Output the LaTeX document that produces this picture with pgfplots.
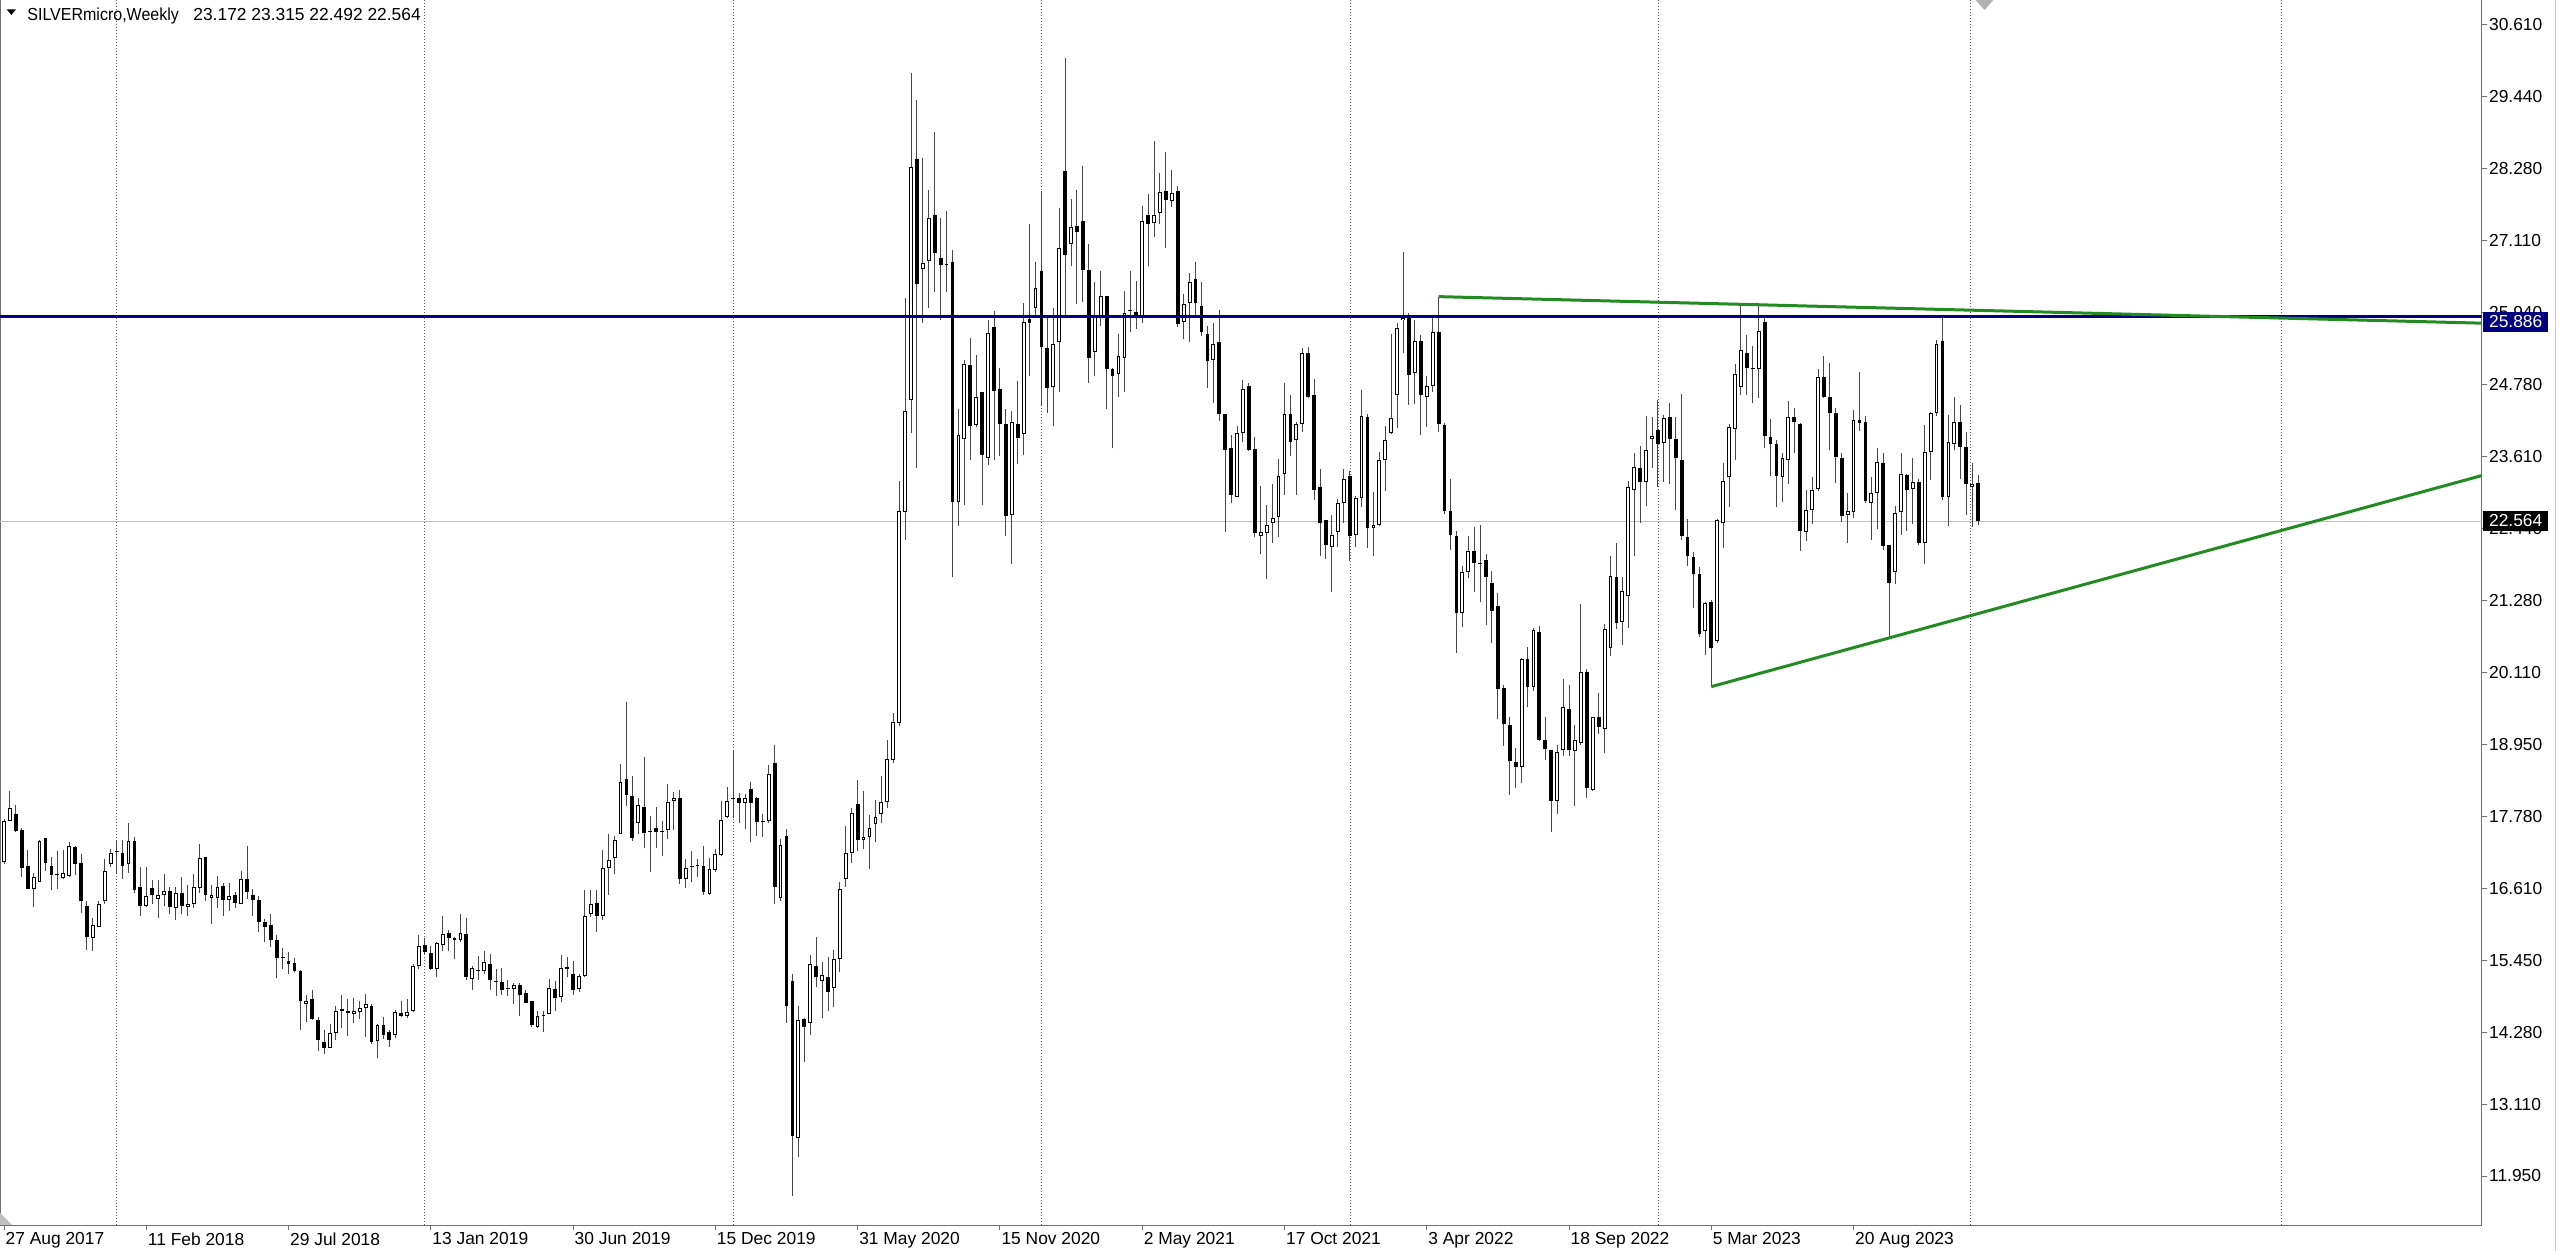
\documentclass[border=0pt]{standalone}
\usepackage{fontspec}
\setmainfont{Liberation Sans}
\usepackage{graphicx}
\usepackage{pgfplots}
\usepackage{pgfplotstable}
\pgfplotsset{compat=1.18}

\definecolor{mtnavy}{RGB}{0,0,128}
\definecolor{mtgreen}{RGB}{34,139,34}
\definecolor{bidline}{RGB}{192,192,192}
\definecolor{frame}{RGB}{110,110,110}
\newcommand\tickfont{\fontsize{8.7bp}{10bp}\selectfont}

% weekly SILVERmicro candles, week index from 27 Aug 2017
\pgfplotstableread{
x o h l c
0 17.04 17.74 17.01 17.71
1 17.71 18.19 17.70 17.92
2 17.81 17.96 17.53 17.54
3 17.56 17.59 16.79 16.94
4 16.97 17.23 16.60 16.60
5 16.60 16.86 16.31 16.79
6 16.72 17.40 16.72 17.38
7 17.43 17.43 16.89 17.02
8 16.98 17.12 16.59 16.83
9 16.82 17.22 16.60 16.82
10 16.78 17.24 16.77 16.86
11 16.81 17.36 16.79 17.29
12 17.28 17.29 16.82 17.01
13 17.02 17.16 16.21 16.40
14 16.32 16.40 15.62 15.82
15 15.80 16.13 15.59 16.02
16 15.99 16.40 15.98 16.35
17 16.40 17.09 16.36 16.89
18 17.01 17.25 16.96 17.18
19 17.22 17.39 16.85 17.20
20 17.18 17.40 16.77 16.98
21 17.01 17.67 16.86 17.38
22 17.38 17.45 16.53 16.59
23 16.63 16.96 16.16 16.32
24 16.32 16.96 16.31 16.49
25 16.62 16.75 16.36 16.51
26 16.44 16.74 16.13 16.50
27 16.50 16.85 16.33 16.57
28 16.57 16.64 16.19 16.31
29 16.30 16.64 16.10 16.54
30 16.53 16.79 16.19 16.33
31 16.31 16.66 16.16 16.36
32 16.36 16.85 16.30 16.64
33 16.62 17.33 16.53 17.11
34 17.12 17.12 16.40 16.50
35 16.46 16.66 16.04 16.51
36 16.46 16.81 16.30 16.63
37 16.65 16.69 16.17 16.43
38 16.42 16.70 16.24 16.48
39 16.50 16.55 16.30 16.37
40 16.36 16.89 16.35 16.76
41 16.76 17.30 16.44 16.55
42 16.51 16.60 16.17 16.43
43 16.43 16.48 15.90 16.07
44 16.07 16.12 15.75 15.99
45 16.01 16.19 15.66 15.78
46 15.77 15.85 15.16 15.49
47 15.48 15.64 15.31 15.48
48 15.43 15.58 15.23 15.38
49 15.40 15.49 15.25 15.28
50 15.28 15.29 14.32 14.78
51 14.73 14.88 14.44 14.79
52 14.82 14.97 14.47 14.50
53 14.48 14.52 13.98 14.16
54 14.12 14.32 13.92 14.03
55 14.03 14.41 14.03 14.27
56 14.27 14.70 14.16 14.63
57 14.63 14.89 14.35 14.65
58 14.63 14.82 14.22 14.59
59 14.58 14.84 14.43 14.62
60 14.61 14.79 14.50 14.68
61 14.67 14.90 14.20 14.73
62 14.71 14.73 14.09 14.12
63 14.13 14.41 13.87 14.39
64 14.40 14.53 14.17 14.24
65 14.28 14.31 14.04 14.16
66 14.24 14.64 14.18 14.60
67 14.59 14.79 14.52 14.54
68 14.55 14.82 14.51 14.60
69 14.63 15.39 14.60 15.36
70 15.35 15.86 15.31 15.68
71 15.70 15.80 15.55 15.58
72 15.57 15.67 15.29 15.31
73 15.31 15.74 15.17 15.72
74 15.70 16.16 15.59 15.87
75 15.89 15.94 15.60 15.81
76 15.80 15.82 15.47 15.77
77 15.77 16.20 15.74 15.89
78 15.87 16.13 15.12 15.17
79 15.15 15.36 14.96 15.32
80 15.28 15.51 15.12 15.29
81 15.28 15.60 15.23 15.42
82 15.39 15.55 14.96 15.12
83 15.10 15.31 14.87 15.11
84 15.10 15.32 14.89 14.96
85 14.98 15.12 14.87 14.99
86 14.98 15.07 14.74 15.05
87 15.05 15.07 14.55 14.89
88 14.91 14.97 14.76 14.76
89 14.78 14.79 14.37 14.39
90 14.36 14.62 14.35 14.54
91 14.55 14.63 14.28 14.56
92 14.58 15.14 14.57 15.00
93 14.98 15.11 14.63 14.84
94 14.85 15.53 14.77 15.32
95 15.33 15.50 15.17 15.30
96 15.23 15.44 14.89 14.97
97 14.98 15.23 14.93 15.19
98 15.19 16.58 15.17 16.17
99 16.19 16.58 16.15 16.36
100 16.38 16.59 15.90 16.17
101 16.17 17.23 16.10 16.94
102 16.94 17.49 16.51 17.07
103 17.11 17.46 16.84 17.40
104 17.50 18.63 17.49 18.34
105 18.39 19.63 17.94 18.13
106 18.11 18.44 17.38 17.43
107 17.67 18.07 17.50 17.96
108 17.93 18.74 17.26 17.51
109 17.52 17.78 16.87 17.53
110 17.59 17.93 17.26 17.53
111 17.52 17.71 17.13 17.53
112 17.56 18.31 17.41 18.01
113 18.03 18.17 17.55 18.08
114 18.08 18.20 16.68 16.77
115 16.76 17.09 16.62 16.94
116 16.96 17.21 16.72 16.97
117 16.97 17.08 16.79 16.98
118 16.97 17.30 16.51 16.55
119 16.52 17.11 16.50 16.92
120 16.91 17.25 16.88 17.17
121 17.15 18.03 17.13 17.72
122 17.76 18.26 17.75 18.02
123 18.06 18.84 17.75 18.08
124 18.07 18.15 17.67 18.00
125 18.00 18.14 17.58 18.07
126 18.22 18.34 17.37 18.00
127 18.08 18.09 17.46 17.68
128 17.69 17.82 17.44 17.70
129 17.71 18.61 17.67 18.47
130 18.65 18.93 16.36 16.64
131 16.45 17.41 16.41 17.32
132 17.46 17.57 14.43 14.71
133 15.11 15.23 11.63 12.60
134 12.57 14.71 12.25 14.47
135 14.50 14.51 13.79 14.37
136 14.43 15.53 14.23 15.38
137 15.36 15.82 15.01 15.17
138 15.11 15.42 14.51 15.21
139 15.18 15.50 14.62 14.93
140 15.00 15.61 14.69 15.47
141 15.47 16.71 15.25 16.60
142 16.77 17.62 16.63 17.19
143 17.19 17.91 17.02 17.84
144 17.98 18.36 17.21 17.39
145 17.39 18.19 17.25 17.45
146 17.44 17.80 16.93 17.59
147 17.65 18.04 17.37 17.77
148 17.82 18.43 17.67 18.01
149 18.01 19.01 17.91 18.70
150 18.69 19.46 18.65 19.31
151 19.29 23.22 19.24 22.73
152 22.71 26.17 22.26 24.35
153 24.53 29.82 23.99 28.30
154 28.43 29.38 23.42 26.41
155 26.64 28.45 25.78 26.74
156 26.78 27.92 26.02 27.47
157 27.52 28.87 26.27 26.90
158 26.83 27.47 25.82 26.71
159 26.72 27.59 26.27 26.73
160 26.76 26.95 21.65 22.88
161 22.88 24.38 22.48 23.96
162 23.89 25.17 22.83 25.11
163 25.09 25.53 23.55 24.11
164 24.12 25.26 24.09 24.58
165 24.65 24.65 22.83 23.63
166 23.58 25.82 23.47 25.61
167 25.70 25.97 23.56 24.67
168 24.70 25.05 23.62 24.13
169 24.14 24.38 22.32 22.64
170 22.66 24.34 21.87 24.17
171 24.14 24.84 23.48 23.91
172 23.98 26.10 23.64 25.79
173 25.83 27.37 24.92 25.77
174 26.02 26.76 25.87 26.34
175 26.61 27.91 24.43 25.39
176 25.36 25.87 24.31 24.72
177 24.73 26.02 24.11 25.44
178 25.46 27.63 24.66 26.99
179 28.24 30.06 25.87 26.88
180 27.06 27.79 26.69 27.33
181 27.35 27.93 26.08 27.25
182 27.42 28.31 26.11 26.63
183 26.63 27.05 24.80 25.20
184 25.31 26.43 24.91 25.88
185 25.89 26.61 25.73 26.21
186 26.21 26.21 24.38 25.03
187 25.03 25.05 23.74 24.92
188 24.95 25.60 24.58 25.23
189 25.21 26.29 24.66 25.93
190 25.97 26.62 25.62 25.98
191 25.95 26.45 25.68 25.88
192 25.88 27.67 25.77 27.42
193 27.53 27.86 26.69 27.37
194 27.40 28.73 27.17 27.53
195 27.56 28.21 27.37 27.90
196 27.91 28.54 26.99 27.76
197 27.75 28.26 27.65 27.88
198 27.91 28.00 25.70 25.76
199 25.79 26.25 25.51 26.08
200 26.09 26.58 25.47 26.43
201 26.48 26.76 25.89 26.09
202 26.05 26.44 25.57 25.62
203 25.60 25.73 24.72 25.16
204 25.18 25.77 24.47 25.44
205 25.47 25.98 24.18 24.29
206 24.30 24.30 22.39 23.71
207 23.75 23.95 22.85 22.99
208 22.96 24.10 22.96 23.99
209 23.99 24.85 23.84 24.70
210 24.75 24.80 23.70 23.71
211 23.73 23.92 22.30 22.37
212 22.32 23.13 22.03 22.39
213 22.37 22.83 21.62 22.50
214 22.53 23.17 22.20 22.61
215 22.63 23.57 22.30 23.29
216 23.32 24.80 22.99 24.29
217 24.30 24.60 23.62 23.85
218 23.88 24.17 22.99 24.13
219 24.14 25.37 24.00 25.28
220 25.29 25.38 24.55 24.57
221 24.61 24.87 22.91 23.06
222 23.12 23.41 22.00 22.53
223 22.58 22.58 21.95 22.17
224 22.15 22.66 21.41 22.34
225 22.39 22.92 22.15 22.85
226 22.85 23.41 22.53 23.24
227 23.29 23.38 21.91 22.32
228 22.33 22.97 22.15 22.93
229 22.93 24.68 22.79 24.27
230 24.25 24.30 22.13 22.45
231 22.45 23.03 21.99 22.50
232 22.50 23.69 22.48 23.56
233 23.56 24.10 23.05 23.87
234 23.99 25.60 23.98 24.23
235 24.60 25.77 24.07 25.69
236 25.82 26.93 25.28 25.86
237 25.90 25.93 24.44 24.93
238 24.96 25.82 24.46 25.48
239 25.48 25.58 23.96 24.60
240 24.57 24.92 24.09 24.75
241 24.75 25.86 24.65 25.62
242 25.63 26.20 24.01 24.14
243 24.12 24.16 22.68 22.73
244 22.73 23.25 22.09 22.33
245 22.32 22.41 20.43 21.08
246 21.07 21.84 20.84 21.73
247 21.73 22.32 21.64 22.07
248 22.07 22.46 21.41 21.89
249 21.88 22.50 21.25 21.87
250 21.94 22.03 20.88 21.66
251 21.56 21.75 20.59 21.10
252 21.18 21.39 19.36 19.84
253 19.85 19.90 18.91 19.28
254 19.26 19.38 18.13 18.67
255 18.66 18.88 18.23 18.58
256 18.58 20.35 18.32 20.32
257 20.32 20.52 19.55 19.87
258 19.87 20.83 19.81 20.79
259 20.77 20.87 19.00 19.02
260 19.01 19.39 18.69 18.87
261 18.85 18.85 17.53 18.03
262 18.03 18.94 17.82 18.82
263 18.85 20.00 18.75 19.55
264 19.52 19.90 18.75 18.85
265 18.83 19.26 17.95 19.02
266 18.96 21.22 18.94 20.11
267 20.11 20.16 18.07 18.24
268 18.21 19.39 18.19 19.38
269 19.38 19.78 19.12 19.23
270 19.20 20.90 18.80 20.82
271 20.50 21.99 20.37 21.68
272 21.65 22.21 20.82 20.91
273 20.93 21.65 20.56 21.43
274 21.35 23.22 20.83 23.12
275 23.06 23.67 21.99 23.44
276 23.43 23.78 22.53 23.19
277 23.19 24.27 22.81 23.71
278 23.89 24.25 23.43 23.94
279 24.04 24.52 23.11 23.82
280 23.83 24.28 23.20 24.24
281 24.25 24.48 23.16 23.90
282 23.89 24.25 22.74 23.58
283 23.55 24.62 22.25 22.32
284 22.31 22.59 21.83 21.99
285 21.98 22.06 21.15 21.70
286 21.70 21.82 20.69 20.73
287 20.78 21.25 20.39 21.24
288 21.25 21.28 19.88 20.50
289 20.62 22.59 20.58 22.58
290 22.53 23.51 22.12 23.21
291 23.28 24.13 22.79 24.09
292 24.06 25.11 23.55 24.95
293 24.73 26.06 24.60 25.34
294 25.29 25.58 24.60 25.05
295 25.05 25.40 24.47 25.02
296 25.02 26.10 24.55 25.65
297 25.79 25.88 23.74 23.94
298 23.92 24.21 23.29 23.82
299 23.82 23.88 22.79 23.29
300 23.27 23.66 22.87 23.59
301 23.56 24.51 23.17 24.25
302 24.25 24.39 23.66 24.17
303 24.13 24.15 22.08 22.41
304 22.39 23.06 22.24 22.74
305 22.75 23.28 22.51 23.06
306 23.09 25.02 23.05 24.90
307 24.90 25.24 24.55 24.58
308 24.58 25.13 23.71 24.31
309 24.31 24.39 23.18 23.60
310 23.58 23.66 22.55 22.64
311 22.66 23.01 22.20 22.73
312 22.71 24.36 22.62 24.20
313 24.20 24.98 24.03 24.15
314 24.17 24.26 22.86 22.89
315 22.86 23.27 22.26 23.01
316 23.01 23.74 22.44 23.52
317 23.51 23.66 22.10 22.16
318 22.17 22.17 20.68 21.56
319 21.74 22.81 21.54 22.69
320 22.71 23.67 22.33 23.33
321 23.31 23.33 22.40 23.07
322 23.09 23.58 22.52 23.19
323 23.20 23.24 22.17 22.21
324 22.21 24.12 21.86 23.68
325 23.68 24.33 23.23 24.31
326 24.31 25.50 24.26 25.44
327 25.48 25.88 22.90 22.96
328 22.96 24.28 22.48 23.85
329 23.82 24.58 23.71 24.17
330 24.17 24.44 23.24 23.77
331 23.77 24.01 22.66 23.16
332 23.11 23.50 22.47 23.16
333 23.172 23.315 22.492 22.564
}\candles

\pgfplotsset{
  candle part/.style={draw=none, mark=none, forget plot,
    error bars/.cd, y dir=plus, y explicit, error mark=none,
    error bar style={line cap=butt, solid, #1}},
}

\begin{document}
\begin{tikzpicture}
\begin{axis}[
    at={(0bp,13bp)}, anchor=south west,
    scale only axis, width=1240.85bp, height=612.5bp,
    xmin=-0.675, xmax=417.96, ymin=11.156, ymax=31.007,
    axis line style={draw=frame, line width=0.5bp},
    tick align=outside, major tick length=2.5bp,
    tick style={draw=frame, line width=0.5bp},
    xtick pos=left, ytick pos=right, yticklabel pos=right,
    xtick={0,24,...,312},
    xticklabels={27 Aug 2017,11 Feb 2018,29 Jul 2018,13 Jan 2019,30 Jun 2019,15 Dec 2019,31 May 2020,15 Nov 2020,2 May 2021,17 Oct 2021,3 Apr 2022,18 Sep 2022,5 Mar 2023,20 Aug 2023},
    ytick={11.95,13.11,14.28,15.45,16.61,17.78,18.95,20.11,21.28,22.44,23.61,24.78,25.94,27.11,28.28,29.44,30.61},
    yticklabels={11.950,13.110,14.280,15.450,16.610,17.780,18.950,20.110,21.280,22.440,23.610,24.780,25.940,27.110,28.280,29.440,30.610},
    ticklabel style={font=\tickfont, text=black},
    xticklabel style={anchor=north west, inner xsep=0.6bp, inner ysep=1bp},
    yticklabel style={anchor=west, inner xsep=1bp},
    extra x ticks={18.9,70.9,123.0,175.0,227.1,279.1,331.7,384.1},
    extra x tick labels={},
    extra x tick style={grid=major, major tick length=0pt},
    major grid style={draw=black!65, line width=0.5bp, dash pattern=on 0.5bp off 1bp},
]
% bid price line
\addplot[draw=bidline, line width=0.5bp] coordinates {(-0.675,22.564) (417.96,22.564)};
% wicks, low to high
\addplot[candle part={draw=black!72, line width=0.5bp}]
    table[x=x, y=l, y error expr={\thisrow{h}-\thisrow{l}}] {\candles};
% bodies: black block, white inside for rising weeks
\addplot[candle part={draw=black, line width=1.9bp}]
    table[x=x, y expr={min(\thisrow{o},\thisrow{c})},
          y error expr={max(abs(\thisrow{c}-\thisrow{o}),0.016)}] {\candles};
\addplot[candle part={draw=white, line width=0.9bp}]
    table[x=x, y expr={\thisrow{o}+0.016},
          y error expr={max(\thisrow{c}-\thisrow{o}-0.032,0)}] {\candles};
% horizontal level
\addplot[draw=mtnavy, line width=1.5bp] coordinates {(-0.675,25.886) (417.96,25.886)};
% trend lines
\addplot[draw=mtgreen, line width=1.5bp] coordinates {(242,26.20) (417.96,25.77)};
\addplot[draw=mtgreen, line width=1.5bp] coordinates {(288,19.88) (417.96,23.30)};
\coordinate (lvl) at (axis cs:417.96,25.79);
\coordinate (bid) at (axis cs:417.96,22.564);
\end{axis}
\node[fill=mtnavy, text=white, anchor=west, minimum width=32.75bp, minimum height=10bp, inner sep=0pt, font=\tickfont] at ([xshift=0.4bp]lvl) {25.886};
\node[fill=black, text=white, anchor=west, minimum width=32.75bp, minimum height=10.4bp, inner sep=0pt, font=\tickfont] at ([xshift=0.4bp]bid) {22.564};
% title line
\fill (3.35bp,620.85bp) -- (8bp,620.85bp) -- (5.68bp,618bp) -- cycle;
\node[anchor=base west, inner sep=0pt, font=\tickfont] at (13.5bp,615.4bp) {\scalebox{0.92}[1]{SILVERmicro,Weekly}};
\node[anchor=base west, inner sep=0pt, font=\tickfont] at (96.5bp,615.4bp) {23.172 23.315 22.492 22.564};
% chart shift marker and corner marker
\fill[black!30] (987.8bp,625.5bp) -- (996.7bp,625.5bp) -- (992.2bp,620.5bp) -- cycle;
\fill[black!25] (0bp,13bp) -- (6bp,13bp) -- (0bp,19bp) -- cycle;
\draw[black!20, line width=0.5bp] (1277.5bp,0) -- (1277.5bp,625.5bp);
\pgfresetboundingbox
\useasboundingbox (0,0) rectangle (1280bp,625.5bp);
\end{tikzpicture}
\end{document}
